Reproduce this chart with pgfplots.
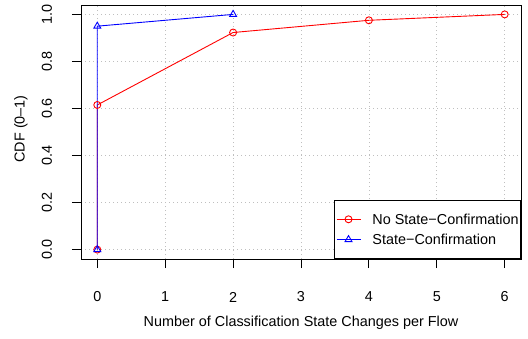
\documentclass[border=0pt]{standalone}
\usepackage{fontspec}
\setmainfont{Liberation Sans}
\usepackage{pgfplots}
\pgfplotsset{compat=1.18}
\newcommand{\fs}{\fontsize{14.4}{17}\selectfont}
\begin{document}
\begin{tikzpicture}[x=1pt,y=1pt]
\useasboundingbox (0,0) rectangle (528,338);
\begin{axis}[
  at={(81pt,79pt)}, anchor=south west,
  width=440pt, height=254pt, scale only axis,
  xmin=-0.24, xmax=6.24, ymin=-0.04, ymax=1.04,
  xtick={0,1,2,3,4,5,6},
  ytick={0,0.2,0.4,0.6,0.8,1.0},
  yticklabels={0.0,0.2,0.4,0.6,0.8,1.0},
  /pgf/number format/assume math mode=true,
  tick align=outside, major tick length=9pt,
  xtick pos=bottom, ytick pos=left,
  tick style={black, line width=0.9pt},
  axis line style={black, line width=0.9pt},
  grid=major,
  grid style={lightgray, line width=0.8pt, dash pattern=on 1pt off 3pt},
  tick label style={font=\fs},
  xticklabel style={anchor=center, yshift=-29pt},
  yticklabel style={xshift=-25pt, rotate=90, anchor=center},
  label style={font=\fs},
  xlabel={Number of Classification State Changes per Flow},
  ylabel={CDF (0–1)},
  xlabel style={at={(axis description cs:0.5,-0.252)}, anchor=center},
  ylabel style={at={(axis description cs:-0.1364,0.512)}, anchor=center},
  legend style={at={(1,0)}, anchor=south east, draw=black, line width=0.9pt,
    font=\fs, inner xsep=2pt, inner ysep=13.8pt, row sep=10pt,
    nodes={inner sep=0pt, text height=10.3pt, text depth=0pt}},
  legend cell align=left,
  legend image code/.code={
    \draw[#1, mark repeat=2, mark phase=2] plot coordinates {(0pt,0pt) (12pt,0pt) (24pt,0pt)};
  },
]
\addplot[red, line width=0.9pt, mark=o, mark size=3.5pt, mark options={solid, line width=0.9pt}]
  coordinates {(0,0) (0,0.615) (2,0.923) (4,0.975) (6,1.0)};
\addlegendentry{\hspace{11.5pt}No State−Confirmation\hspace{4pt}}
\addplot[blue, line width=0.9pt, mark=triangle, mark size=4pt, mark options={solid, line width=0.9pt}]
  coordinates {(0,0) (0,0.95) (2,1.0)};
\addlegendentry{\hspace{11.5pt}State−Confirmation}
\end{axis}
\end{tikzpicture}
\end{document}
